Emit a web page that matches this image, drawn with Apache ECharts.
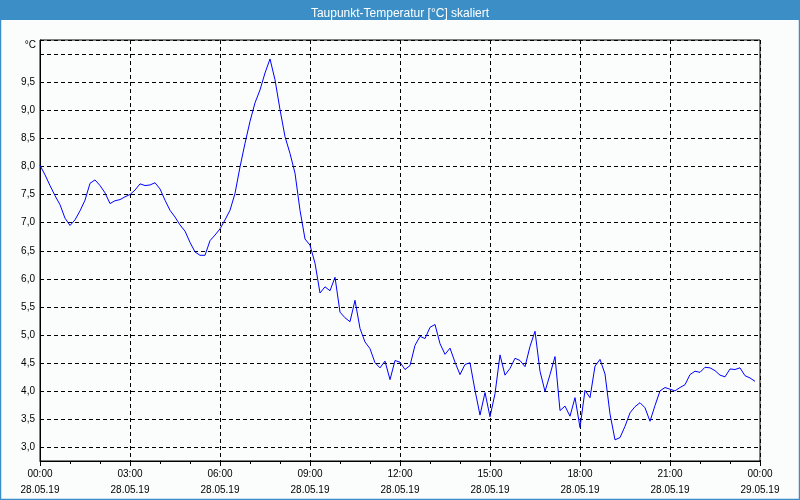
<!DOCTYPE html>
<html>
<head>
<meta charset="utf-8">
<script src="https://cdn.jsdelivr.net/npm/echarts@6/dist/echarts.min.js"></script>
<style>
html,body{margin:0;padding:0;background:#fbfdfd;}
#c{width:800px;height:500px;}
</style>
</head>
<body>
<div id="c"></div>
<script>
// Dew point temperature, one reading every 10 minutes starting 28.05.19 00:00
const sampleMinutes = 10;
const dewPoint = [
  8.02, 7.85, 7.66, 7.48, 7.32, 7.08, 6.95, 7.05, 7.21, 7.40, 7.70, 7.76,
  7.66, 7.53, 7.34, 7.39, 7.41, 7.46, 7.50, 7.58, 7.69, 7.66, 7.67, 7.71,
  7.60, 7.40, 7.22, 7.10, 6.96, 6.85, 6.65, 6.48, 6.42, 6.42, 6.68, 6.78,
  6.89, 7.05, 7.22, 7.52, 7.99, 8.41, 8.80, 9.13, 9.36, 9.66, 9.91, 9.54,
  9.01, 8.53, 8.23, 7.88, 7.22, 6.71, 6.60, 6.28, 5.75, 5.86, 5.79, 6.03,
  5.41, 5.31, 5.24, 5.62, 5.12, 4.88, 4.76, 4.51, 4.42, 4.54, 4.21, 4.55,
  4.52, 4.39, 4.46, 4.82, 4.98, 4.94, 5.14, 5.19, 4.85, 4.66, 4.77, 4.52,
  4.30, 4.48, 4.51, 4.02, 3.58, 3.98, 3.55, 3.96, 4.65, 4.29, 4.41, 4.59,
  4.55, 4.44, 4.80, 5.07, 4.36, 4.00, 4.30, 4.62, 3.66, 3.74, 3.56, 3.89,
  3.36, 4.02, 3.89, 4.45, 4.57, 4.31, 3.60, 3.14, 3.18, 3.38, 3.62, 3.73,
  3.80, 3.71, 3.47, 3.75, 4.01, 4.07, 4.04, 4.01, 4.07, 4.12, 4.30, 4.36,
  4.34, 4.43, 4.42, 4.37, 4.29, 4.26, 4.40, 4.39, 4.42, 4.28, 4.24, 4.18
];
const xTickHours = [0, 3, 6, 9, 12, 15, 18, 21, 24];
const xTickDates = ['28.05.19', '28.05.19', '28.05.19', '28.05.19', '28.05.19', '28.05.19', '28.05.19', '28.05.19', '29.05.19'];
const yMin = 2.764, yMax = 10.247;
const titleText = 'Taupunkt-Temperatur [°C] skaliert';
const unitText = '°C';

const seriesData = dewPoint.map((v, i) => [i * sampleMinutes / 60, v]);

const font = 'Liberation Sans, Arial, sans-serif';
const chart = echarts.init(document.getElementById('c'), null, {renderer: 'canvas'});
chart.setOption({
  backgroundColor: '#fbfdfd',
  animation: false,
  title: {
    text: titleText,
    left: 'center',
    top: 3,
    textStyle: {color: '#ffffff', fontSize: 12, fontWeight: 'normal', fontFamily: font}
  },
  graphic: [
    {type: 'rect', z: 0, shape: {x: 0, y: 0, width: 800, height: 20}, style: {fill: '#3c8fc6'}},
    {type: 'rect', z: 100, shape: {x: 0.5, y: 0.5, width: 799, height: 499}, style: {fill: 'none', stroke: '#3c8fc6', lineWidth: 1.5}},
    {type: 'text', z: 100, x: 36, y: 45, style: {text: unitText, fill: '#000', font: '10px ' + font, textAlign: 'right', textVerticalAlign: 'middle'}}
  ],
  grid: {
    left: 40, right: 40, top: 40, bottom: 39,
    show: true, borderColor: '#000', borderWidth: 1, backgroundColor: 'transparent'
  },
  xAxis: {
    type: 'value',
    min: 0, max: 24, interval: 3,
    axisLine: {show: true, lineStyle: {color: '#000', width: 1}},
    axisTick: {show: true, length: 5, lineStyle: {color: '#000'}},
    minorTick: {show: true, splitNumber: 3, length: 3, lineStyle: {color: '#000'}},
    splitLine: {show: true, lineStyle: {color: '#000', type: [4, 3], width: 1}},
    axisLabel: {
      margin: 5,
      color: '#000',
      fontSize: 10,
      fontFamily: font,
      lineHeight: 16,
      formatter: function (v) {
        const idx = xTickHours.indexOf(v);
        if (idx < 0) return '';
        const h = v % 24;
        return (h < 10 ? '0' + h : '' + h) + ':00\n' + xTickDates[idx];
      }
    }
  },
  yAxis: {
    type: 'value',
    min: yMin, max: yMax,
    splitNumber: 15, minInterval: 0.5, maxInterval: 0.5,
    axisLine: {show: true, lineStyle: {color: '#000', width: 1}},
    axisTick: {show: false},
    splitLine: {show: true, lineStyle: {color: '#000', type: [4, 3], width: 1}},
    axisLabel: {
      margin: 5,
      color: '#000',
      fontSize: 10,
      fontFamily: font,
      showMinLabel: false,
      showMaxLabel: false,
      formatter: function (v) {
        if (Math.abs(v * 2 - Math.round(v * 2)) > 1e-6) return '';
        if (v > 9.9) return '';
        return v.toFixed(1).replace('.', ',');
      }
    }
  },
  series: [{
    type: 'line',
    data: seriesData,
    showSymbol: false,
    symbol: 'none',
    lineStyle: {color: '#0000ff', width: 1},
    silent: true
  }]
});
</script>
</body>
</html>
